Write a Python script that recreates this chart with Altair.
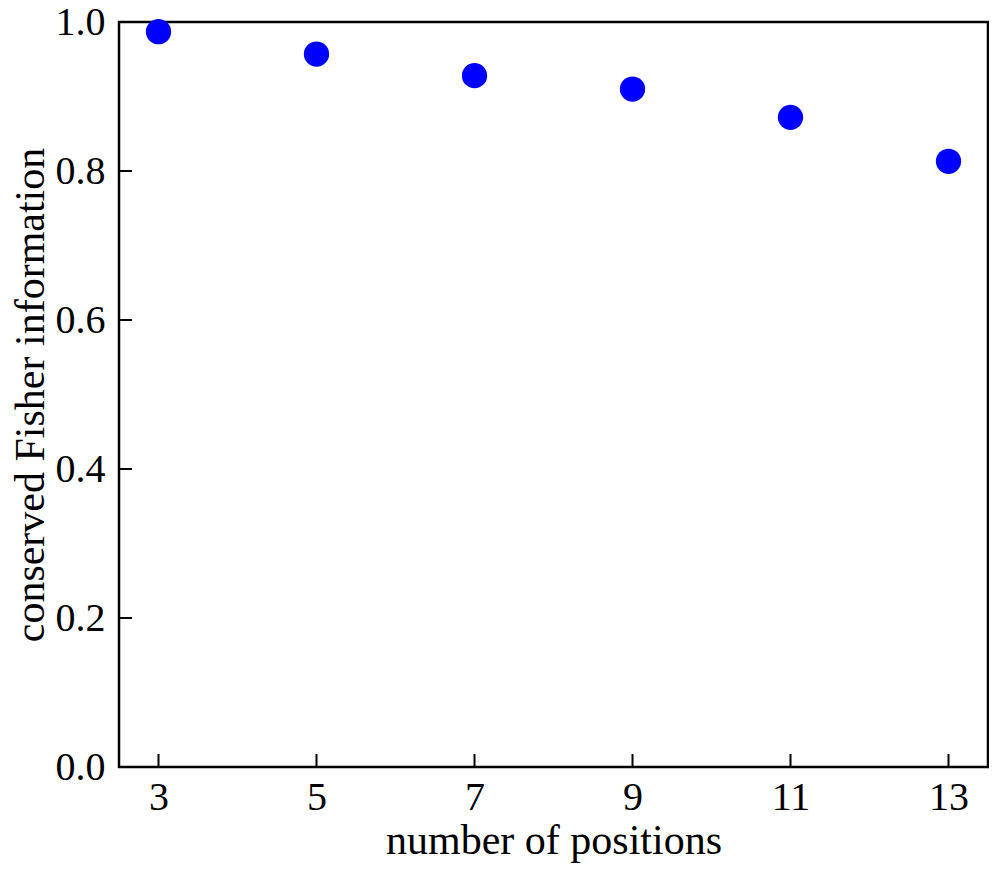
import altair as alt
import pandas as pd

positions = [3, 5, 7, 9, 11, 13]
fisher = [0.987, 0.957, 0.928, 0.910, 0.872, 0.813]
y_ticks = [0.0, 0.2, 0.4, 0.6, 0.8, 1.0]
x_ticks = [3, 5, 7, 9, 11, 13]

df = pd.DataFrame({"n": positions, "f": fisher})
dfy = pd.DataFrame({"v": y_ticks})
dfx = pd.DataFrame({"v": x_ticks})

W, H = 869, 745
FONT = "Liberation Serif"

xscale = alt.Scale(domain=[2.5, 13.5], nice=False, zero=False)
yscale = alt.Scale(domain=[0.0, 1.0], nice=False)

xaxis = alt.Axis(
    values=x_ticks, format="d", ticks=False, tickSize=0, grid=False, domain=False,
    labelFont=FONT, labelFontSize=40, labelColor="black",
    labelBaseline="alphabetic", labelPadding=42,
    title="number of positions", titleFont=FONT, titleFontSize=42,
    titleFontWeight="normal", titleColor="black",
    titleBaseline="alphabetic", titleX=W / 2, titleY=86,
)
yaxis = alt.Axis(
    values=y_ticks, format=".1f", ticks=False, tickSize=0, grid=False, domain=False,
    labelFont=FONT, labelFontSize=40, labelColor="black",
    labelBaseline="middle", labelPadding=14,
    title="conserved Fisher information", titleFont=FONT, titleFontSize=42,
    titleFontWeight="normal", titleColor="black",
    titleBaseline="alphabetic", titleAngle=-90, titleX=-76, titleY=H / 2,
)

points = alt.Chart(df).mark_circle(color="#0000ff", opacity=1, size=640).encode(
    x=alt.X("n:Q", scale=xscale, axis=xaxis),
    y=alt.Y("f:Q", scale=yscale, axis=yaxis),
)

yt = alt.Chart(dfy).mark_tick(color="black", opacity=1, thickness=2, size=13, orient="horizontal").encode(
    y=alt.Y("v:Q", scale=yscale, axis=yaxis),
    x=alt.value(6.5),
)
xt = alt.Chart(dfx).mark_tick(color="black", opacity=1, thickness=2, size=13, orient="vertical").encode(
    x=alt.X("v:Q", scale=xscale, axis=xaxis),
    y=alt.value(H - 6.5),
)

chart = alt.layer(points, xt, yt).properties(
    width=W, height=H,
    padding={"left": 111, "top": 14, "right": 1, "bottom": 100},
    autosize=alt.AutoSizeParams(type="none"),
    background="white",
).configure_view(stroke="black", strokeWidth=2.5)

chart.save("out.html", embed_options={"renderer": "svg", "actions": False})
